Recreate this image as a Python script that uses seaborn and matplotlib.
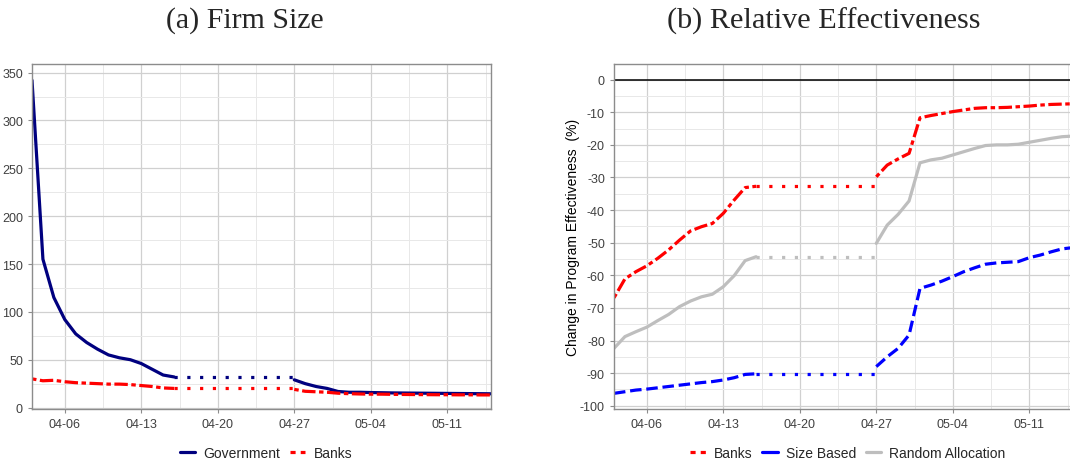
import numpy as np
import pandas as pd
import matplotlib
matplotlib.use("Agg")
import matplotlib.pyplot as plt
import matplotlib.dates as mdates
from matplotlib.lines import Line2D
from matplotlib.ticker import MultipleLocator, FixedLocator
import seaborn as sns

# ---------------- data ----------------
dates_pre = pd.date_range("2020-04-03", "2020-04-16", freq="D")
dates_post = pd.date_range("2020-04-27", "2020-05-15", freq="D")

# (a) Firm size
gov_pre = [342, 155, 115, 92, 77, 68, 61, 55, 52, 50, 46, 40, 34, 32]
gov_post = [29, 25, 22, 20, 16.8, 16, 16, 15.7, 15.5, 15.3, 15.2, 15.1, 15, 14.9,
            14.8, 14.7, 14.6, 14.5, 14.4]
banksA_pre = [30, 28, 28.5, 27, 26, 25.5, 25, 24.5, 24.5, 24, 23, 22, 20.5, 20]
banksA_post = [19, 17, 16.5, 16, 15, 14.5, 14.2, 14, 14, 13.8, 13.7, 13.6, 13.5, 13.4,
               13.4, 13.3, 13.3, 13.2, 13.2]

# (b) Relative effectiveness
banksB_pre = [-66.9, -61.1, -58.9, -57.1, -54.8, -52.2, -49.2, -46.4, -45.1, -44.1,
              -41.0, -36.9, -33.1, -32.7]
banksB_post = [-29.8, -26.2, -24.3, -22.6, -11.7, -11.0, -10.4, -9.8, -9.3, -8.8,
               -8.6, -8.6, -8.5, -8.3, -8.1, -7.8, -7.6, -7.5, -7.4]
size_pre = [-96.2, -95.7, -95.2, -94.9, -94.5, -94.1, -93.7, -93.3, -92.9, -92.6,
            -92.1, -91.4, -90.4, -90.2]
size_post = [-88.0, -85.0, -82.4, -78.3, -64.0, -63.0, -61.8, -60.4, -58.9, -57.7,
             -56.6, -56.2, -56.0, -55.8, -54.6, -53.8, -52.8, -51.9, -51.5]
rand_pre = [-82.4, -78.8, -77.3, -75.9, -73.9, -72.0, -69.6, -67.9, -66.6, -65.8,
            -63.5, -60.1, -55.5, -54.3]
rand_post = [-50.2, -44.6, -41.3, -37.2, -25.5, -24.6, -24.1, -23.1, -22.1, -21.1,
             -20.2, -20.0, -20.0, -19.8, -19.2, -18.6, -18.0, -17.5, -17.3]

titles = ["(a) Firm Size", "(b) Relative Effectiveness"]
ylabel_b = "Change in Program Effectiveness  (%)"
legend_a = ["Government", "Banks"]
legend_b = ["Banks", "Size Based", "Random Allocation"]

# ---------------- style ----------------
sns.set_theme(style="white")
plt.rcParams["font.family"] = ["Liberation Sans", "DejaVu Sans"]
plt.rcParams["axes.unicode_minus"] = False

NAVY = "#00007F"
RED = "#FF0000"
BLUE = "#0000FF"
GREY = "#BEBEBE"
LW = 2.3
DOT = (0, (1.0, 3.0))
TWODASH = (0, (1.4, 1.1, 4.2, 1.1))
DASHED = (0, (3.6, 1.5))

W, H = 1070, 464
fig = plt.figure(figsize=(W / 100, H / 100), dpi=100)
axA = fig.add_axes([32 / W, (H - 410) / H, 459 / W, 345 / H])
axB = fig.add_axes([614 / W, (H - 410) / H, 459 / W, 345 / H])

xlo, xhi = pd.Timestamp("2020-04-03"), pd.Timestamp("2020-05-15")
gap_dates = [dates_pre[-1], dates_post[0]]


def seg(ax, pre, post, color, ls):
    sns.lineplot(x=dates_pre, y=pre, ax=ax, color=color, lw=LW, linestyle=ls)
    sns.lineplot(x=gap_dates, y=[pre[-1], pre[-1]], ax=ax, color=color, lw=LW,
                 linestyle=DOT)
    sns.lineplot(x=dates_post, y=post, ax=ax, color=color, lw=LW, linestyle=ls)


def style_axes(ax):
    ax.set_xlim(xlo, xhi)
    ax.xaxis.set_major_locator(mdates.WeekdayLocator(byweekday=mdates.MO))
    ax.xaxis.set_major_formatter(mdates.DateFormatter("%m-%d"))
    mondays = pd.date_range("2020-03-30", "2020-05-18", freq="7D")
    ax.xaxis.set_minor_locator(FixedLocator(mdates.date2num(mondays) + 3.5))
    ax.grid(True, which="major", color="#D0D0D0", lw=0.9)
    ax.grid(True, which="minor", color="#E8E8E8", lw=0.7)
    ax.set_axisbelow(True)
    for s in ax.spines.values():
        s.set_color("#8C8C8C")
        s.set_linewidth(1.0)
    ax.tick_params(axis="both", which="major", labelsize=9, colors="#8C8C8C",
                   labelcolor="#404040", length=3, width=0.8, bottom=True, left=True)
    ax.tick_params(axis="both", which="minor", length=0)
    ax.set_xlabel("")
    ax.set_ylabel("")


# (a)
seg(axA, gov_pre, gov_post, NAVY, "-")
seg(axA, banksA_pre, banksA_post, RED, TWODASH)
style_axes(axA)
axA.set_ylim(-1.5, 359)
axA.yaxis.set_major_locator(MultipleLocator(50))
axA.yaxis.set_minor_locator(MultipleLocator(25))

# (b)
axB.axhline(0, color="black", lw=1.1, zorder=1.5)
seg(axB, banksB_pre, banksB_post, RED, TWODASH)
seg(axB, size_pre, size_post, BLUE, DASHED)
seg(axB, rand_pre, rand_post, GREY, "-")
style_axes(axB)
axB.set_ylim(-101, 4.8)
axB.yaxis.set_major_locator(MultipleLocator(10))
axB.yaxis.set_minor_locator(MultipleLocator(5))
axB.set_ylabel(ylabel_b, fontsize=10, color="black", labelpad=0)

# titles
fig.text(245 / W, 1 - 21 / H, titles[0], ha="center", va="center",
         family="Liberation Serif", fontsize=21.5)
fig.text(824 / W, 1 - 21 / H, titles[1], ha="center", va="center",
         family="Liberation Serif", fontsize=21.8)

# legends
hA = [Line2D([], [], color=NAVY, lw=LW, ls="-"),
      Line2D([], [], color=RED, lw=LW, ls=(0, (1.6, 1.6)))]
axA.legend(hA, legend_a, loc="center", bbox_to_anchor=(266 / W, 1 - 454 / H),
           bbox_transform=fig.transFigure, ncol=2, frameon=False, fontsize=10,
           handlelength=1.1, handletextpad=0.6, columnspacing=0.7)
hB = [Line2D([], [], color=RED, lw=LW, ls=(0, (1.6, 1.6))),
      Line2D([], [], color=BLUE, lw=LW, ls="-"),
      Line2D([], [], color=GREY, lw=LW, ls="-")]
axB.legend(hB, legend_b, loc="center", bbox_to_anchor=(848 / W, 1 - 454 / H),
           bbox_transform=fig.transFigure, ncol=3, frameon=False, fontsize=10,
           handlelength=1.1, handletextpad=0.6, columnspacing=0.7)

fig.savefig("out.png", dpi=100)
